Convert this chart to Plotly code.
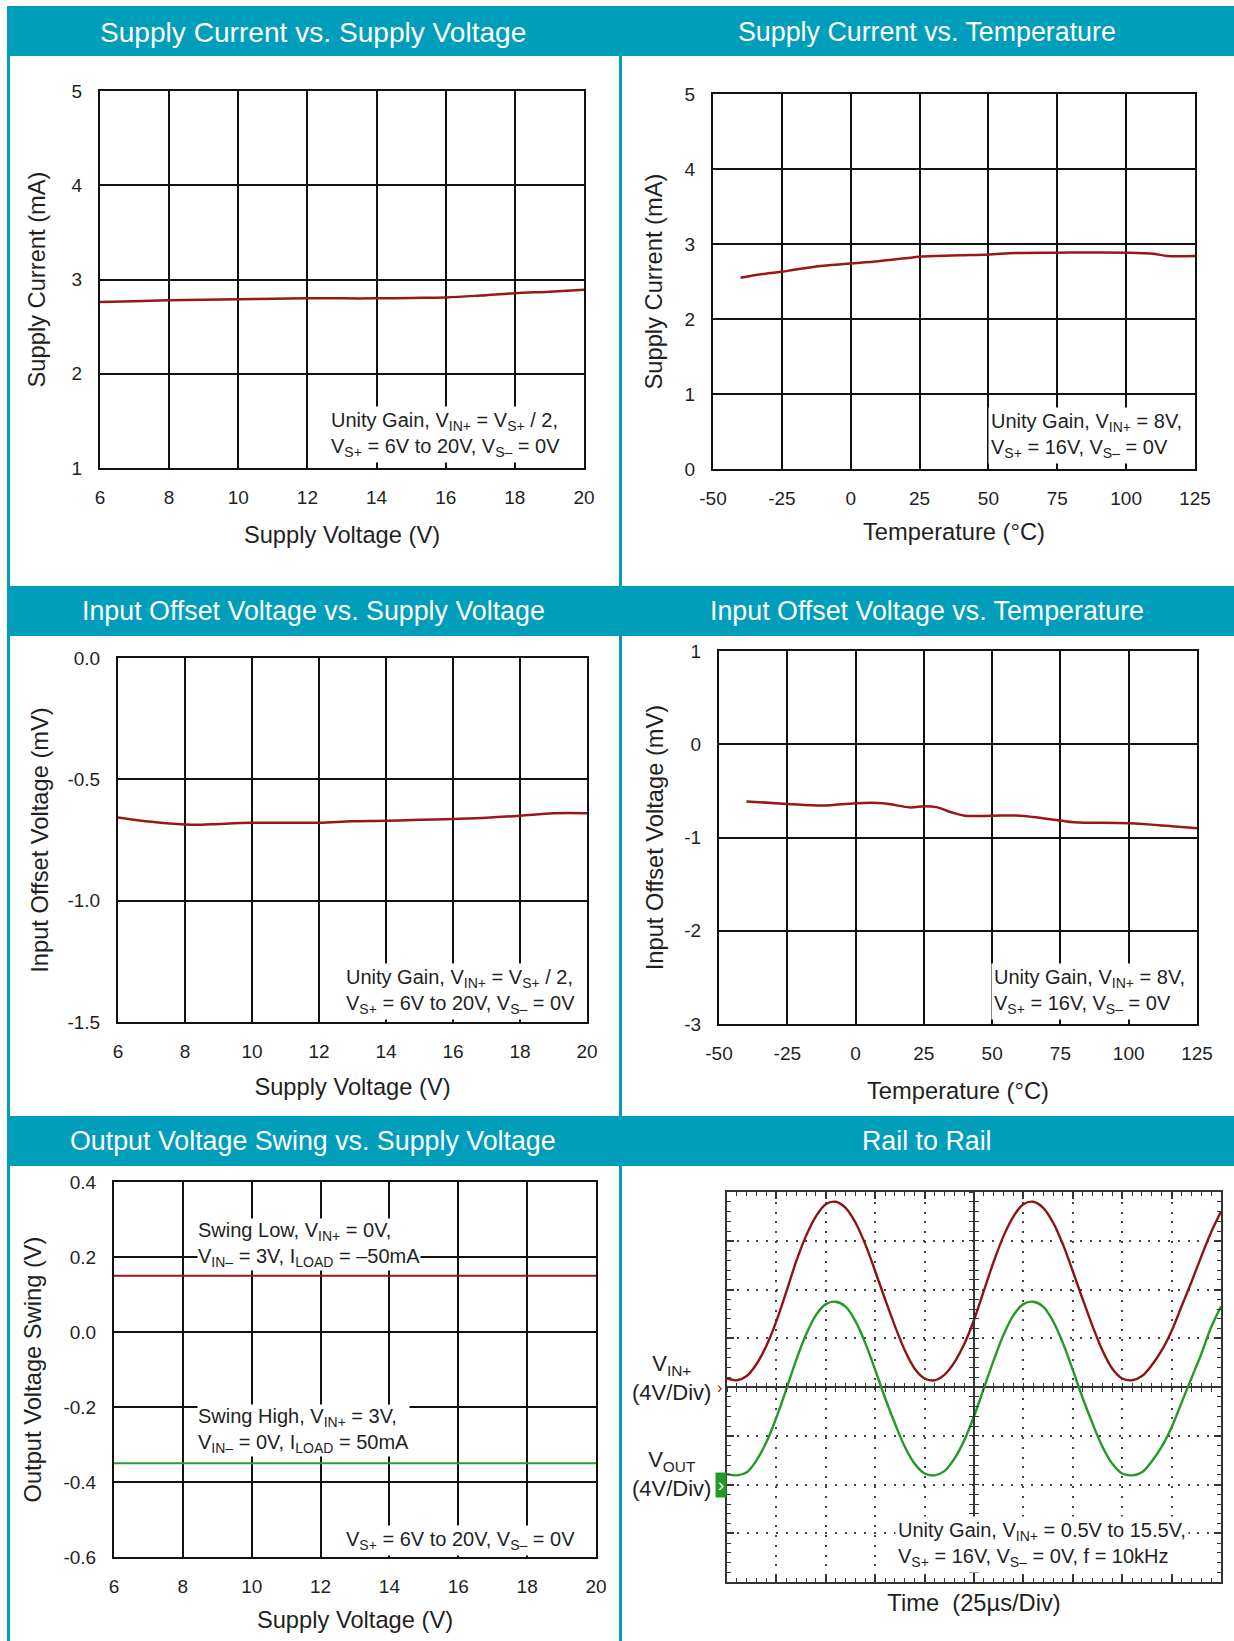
import plotly.graph_objects as go

W, H = 1234, 1641
FONT = "Liberation Sans, Arial, sans-serif"
TEAL = "#009EBA"
INK = "#1f1f1f"
RED = "#9A1717"
GREEN = "#2E9B2E"
SCOPE_RED = "#8E1414"
SCOPE_GREEN = "#239A23"

# ---------------- data ----------------
# Panel 1: Supply Current vs. Supply Voltage
p1_supply_v = [6, 7, 8, 9, 10, 11, 12, 13, 14, 15, 16, 17, 18, 19, 20]
p1_current_ma = [2.76, 2.77, 2.78, 2.785, 2.79, 2.795, 2.80, 2.80, 2.80, 2.805, 2.81, 2.83, 2.855, 2.87, 2.89]

# Panel 2: Supply Current vs. Temperature
p2_temp_c = [-40, -30, -25, -20, -10, 0, 10, 20, 25, 30, 40, 50, 60, 75, 100, 110, 115, 125]
p2_current_ma = [2.55, 2.61, 2.63, 2.66, 2.71, 2.74, 2.77, 2.81, 2.83, 2.84, 2.85, 2.86, 2.88, 2.885, 2.885, 2.87, 2.84, 2.84]

# Panel 3: Input Offset Voltage vs. Supply Voltage
p3_supply_v = [6, 7, 8, 8.5, 9, 10, 11, 12, 13, 14, 15, 16, 17, 18, 19, 20]
p3_offset_mv = [-0.657, -0.675, -0.686, -0.687, -0.684, -0.679, -0.679, -0.679, -0.673, -0.671, -0.667, -0.663, -0.658, -0.650, -0.640, -0.640]

# Panel 4: Input Offset Voltage vs. Temperature
p4_temp_c = [-40, -25, -12, 0, 10, 20, 25, 30, 35, 40, 50, 60, 65, 75, 80, 100, 115, 125]
p4_offset_mv = [-0.613, -0.64, -0.658, -0.632, -0.632, -0.677, -0.665, -0.677, -0.73, -0.766, -0.766, -0.766, -0.78, -0.818, -0.836, -0.848, -0.877, -0.90]

# Panel 5: Output Voltage Swing vs. Supply Voltage
p5_supply_v = [6, 8, 10, 12, 14, 16, 17, 17.5, 18, 19, 19.5, 20]
p5_swing_low_v = [0.15, 0.15, 0.15, 0.15, 0.15, 0.15, 0.15, 0.152, 0.152, 0.152, 0.15, 0.15]
p5_swing_high_v = [-0.35, -0.35, -0.35, -0.35, -0.35, -0.35, -0.35, -0.35, -0.35, -0.35, -0.35, -0.35]

# Panel 6: Rail to Rail scope capture (time in us, volts)
p6_time_us = [0, 5, 10, 15, 20, 25, 30, 35, 40, 45, 50, 55, 60, 65, 70, 75, 80, 85, 90, 95,
              100, 105, 110, 115, 120, 125, 130, 135, 140, 145, 150, 155, 160, 165, 170, 175, 180, 185, 190, 195,
              200, 205, 210, 215, 220, 225, 230, 235, 240, 245, 250]
p6_vin = [0.7, 0.55, 0.9, 1.9, 3.4, 5.4, 7.8, 10.3, 12.4, 14.0, 15.0, 15.2, 14.7, 13.5, 11.7, 9.5, 7.2, 5.0, 3.0, 1.5,
          0.7, 0.55, 1.0, 2.0, 3.5, 5.5, 7.9, 10.3, 12.4, 14.0, 15.0, 15.2, 14.7, 13.5, 11.7, 9.5, 7.2, 5.0, 3.0, 1.5,
          0.7, 0.55, 0.9, 1.8, 3.0, 4.6, 6.6, 8.6, 10.7, 12.7, 14.4]
p6_vout = [0.85, 0.75, 1.0, 2.0, 3.5, 5.5, 7.8, 10.2, 12.3, 13.9, 14.8, 15.0, 14.6, 13.4, 11.6, 9.4, 7.1, 5.0, 3.1, 1.7,
           0.9, 0.75, 1.1, 2.1, 3.6, 5.6, 7.9, 10.2, 12.3, 13.9, 14.8, 15.0, 14.6, 13.4, 11.6, 9.4, 7.1, 5.0, 3.1, 1.7,
           0.9, 0.75, 1.0, 1.9, 3.1, 4.7, 6.7, 8.7, 10.7, 12.9, 14.6]

# Tick labels
sv_ticks = [6, 8, 10, 12, 14, 16, 18, 20]
sv_ticktext = ["6", "8", "10", "12", "14", "16", "18", "20"]
temp_ticks = [-50, -25, 0, 25, 50, 75, 100, 125]
temp_ticktext = ["-50", "-25", "0", "25", "50", "75", "100", "125"]
p1_yticks = [1, 2, 3, 4, 5]
p1_ytext = ["1", "2", "3", "4", "5"]
p2_yticks = [0, 1, 2, 3, 4, 5]
p2_ytext = ["0", "1", "2", "3", "4", "5"]
p3_yticks = [-1.5, -1.0, -0.5, 0.0]
p3_ytext = ["-1.5", "-1.0", "-0.5", "0.0"]
p4_yticks = [-3, -2, -1, 0, 1]
p4_ytext = ["-3", "-2", "-1", "0", "1"]
p5_yticks = [-0.6, -0.4, -0.2, 0.0, 0.2, 0.4]
p5_ytext = ["-0.6", "-0.4", "-0.2", "0.0", "0.2", "0.4"]

# ---------------- layout helpers ----------------
def fx(px):
    return px / W


def fy(py):
    return 1 - py / H


# plot boxes in pixels: left, top, right, bottom
boxes = {
    1: (100, 91, 584, 468),
    2: (713, 94, 1195, 469),
    3: (118, 658, 587, 1022),
    4: (719, 651, 1197, 1024),
    5: (114, 1182, 596, 1557),
    6: (727, 1192, 1221, 1582),
}

TICKFONT = dict(family=FONT, size=19, color=INK)
TITLEFONT = dict(family=FONT, size=23.7, color=INK)


def xaxis(n, rng, tv, tt, title, standoff):
    l, t, r, b = boxes[n]
    return dict(domain=[fx(l), fx(r)], range=rng, anchor="y" if n == 1 else f"y{n}",
                tickvals=tv, ticktext=tt, showgrid=True, gridcolor="#111111", gridwidth=1.8,
                showline=True, mirror=True, linecolor="#111111", linewidth=2, zeroline=False,
                ticks="", tickfont=TICKFONT, ticklabelstandoff=11, automargin=False,
                title=dict(text=title, font=TITLEFONT, standoff=standoff))


def yaxis(n, rng, tv, tt, title, standoff):
    l, t, r, b = boxes[n]
    return dict(domain=[fy(b), fy(t)], range=rng, anchor="x" if n == 1 else f"x{n}",
                tickvals=tv, ticktext=tt, showgrid=True, gridcolor="#111111", gridwidth=1.8,
                showline=True, mirror=True, linecolor="#111111", linewidth=2, zeroline=False,
                ticks="", tickfont=TICKFONT, ticklabelstandoff=12, automargin=False,
                title=dict(text=title, font=TITLEFONT, standoff=standoff))


fig = go.Figure()

fig.add_trace(go.Scatter(x=p1_supply_v, y=p1_current_ma, xaxis="x", yaxis="y", mode="lines",
                         line=dict(color=RED, width=2.5, shape="spline")))
fig.add_trace(go.Scatter(x=p2_temp_c, y=p2_current_ma, xaxis="x2", yaxis="y2", mode="lines",
                         line=dict(color=RED, width=2.5, shape="spline")))
fig.add_trace(go.Scatter(x=p3_supply_v, y=p3_offset_mv, xaxis="x3", yaxis="y3", mode="lines",
                         line=dict(color=RED, width=2.5, shape="spline")))
fig.add_trace(go.Scatter(x=p4_temp_c, y=p4_offset_mv, xaxis="x4", yaxis="y4", mode="lines",
                         line=dict(color=RED, width=2.5, shape="spline")))
fig.add_trace(go.Scatter(x=p5_supply_v, y=p5_swing_low_v, xaxis="x5", yaxis="y5", mode="lines",
                         line=dict(color=RED, width=2.2)))
fig.add_trace(go.Scatter(x=p5_supply_v, y=p5_swing_high_v, xaxis="x5", yaxis="y5", mode="lines",
                         line=dict(color=GREEN, width=2.2)))
fig.add_trace(go.Scatter(x=p6_time_us, y=p6_vin, xaxis="x6", yaxis="y6", mode="lines",
                         line=dict(color=SCOPE_RED, width=2.4, shape="spline")))
fig.add_trace(go.Scatter(x=p6_time_us, y=p6_vout, xaxis="x6", yaxis="y7", mode="lines",
                         line=dict(color=SCOPE_GREEN, width=2.4, shape="spline")))

layout = dict(
    width=W, height=H, margin=dict(l=0, r=0, t=0, b=0, autoexpand=False),
    paper_bgcolor="white", plot_bgcolor="white", showlegend=False,
    font=dict(family=FONT, color=INK),
    xaxis=xaxis(1, [6, 20], sv_ticks, sv_ticktext, "Supply Voltage (V)", 20),
    yaxis=yaxis(1, [1, 5], p1_yticks, p1_ytext, "Supply Current (mA)", 19),
    xaxis2=xaxis(2, [-50, 125], temp_ticks, temp_ticktext, "Temperature (°C)", 16),
    yaxis2=yaxis(2, [0, 5], p2_yticks, p2_ytext, "Supply Current (mA)", 15),
    xaxis3=xaxis(3, [6, 20], sv_ticks, sv_ticktext, "Supply Voltage (V)", 18),
    yaxis3=yaxis(3, [-1.5, 0], p3_yticks, p3_ytext, "Input Offset Voltage (mV)", 12.5),
    xaxis4=xaxis(4, [-50, 125], temp_ticks, temp_ticktext, "Temperature (°C)", 20),
    yaxis4=yaxis(4, [-3, 1], p4_yticks, p4_ytext, "Input Offset Voltage (mV)", 14),
    xaxis5=xaxis(5, [6, 20], sv_ticks, sv_ticktext, "Supply Voltage (V)", 16),
    yaxis5=yaxis(5, [-0.6, 0.4], p5_yticks, p5_ytext, "Output Voltage Swing (V)", 15),
)

# Panel 6: oscilloscope-style axes (25us/div, 4V/div)
l6, t6, r6, b6 = boxes[6]
xdom6 = [fx(l6), fx(r6)]
ydom6 = [fy(b6), fy(t6)]
SC = "#333333"
DOT = "2px,7.8px"
layout["xaxis6"] = dict(domain=xdom6, range=[0, 250], anchor="y6", dtick=25, tick0=0, automargin=False,
                        showticklabels=False, showgrid=True, gridcolor="#444444", gridwidth=1.6, griddash=DOT,
                        showline=True, mirror="ticks", linecolor=SC, linewidth=1.5, zeroline=False,
                        ticks="inside", ticklen=7, tickwidth=1.6, tickcolor=SC,
                        minor=dict(ticks="inside", ticklen=4, dtick=5, tick0=0, tickcolor=SC, tickwidth=1, showgrid=False),
                        title=dict(text="Time\u00a0 (25µs/Div)", font=TITLEFONT, standoff=12))
layout["yaxis6"] = dict(domain=ydom6, range=[-16, 16], anchor="x6", dtick=4, tick0=0, automargin=False,
                        showticklabels=False, showgrid=True, gridcolor="#444444", gridwidth=1.6, griddash=DOT,
                        showline=True, mirror="ticks", linecolor=SC, linewidth=1.5,
                        zeroline=True, zerolinecolor=SC, zerolinewidth=1.6,
                        ticks="inside", ticklen=7, tickwidth=1.6, tickcolor=SC,
                        minor=dict(ticks="inside", ticklen=4, dtick=0.8, tick0=0, tickcolor=SC, tickwidth=1, showgrid=False))
# VOUT channel: ground two divisions below centre
layout["yaxis7"] = dict(overlaying="y6", range=[-8, 24], anchor="x6", visible=False, automargin=False)
# centre cross-hair ticks
xc = (xdom6[0] + xdom6[1]) / 2
yc = (ydom6[0] + ydom6[1]) / 2
for name, side in (("xaxis7", "outside"), ("xaxis8", "inside")):
    layout[name] = dict(overlaying="x6", anchor="free", position=yc, range=[0, 250], dtick=5, tick0=0,
                        ticks=side, ticklen=4, tickwidth=1, tickcolor=SC, showticklabels=False, automargin=False,
                        showgrid=False, showline=False, zeroline=False)
for name, side, line in (("yaxis8", "outside", True), ("yaxis9", "inside", False)):
    layout[name] = dict(overlaying="y6", anchor="free", position=xc, range=[-16, 16], dtick=0.8, tick0=0,
                        ticks=side, ticklen=4, tickwidth=1, tickcolor=SC, showticklabels=False, automargin=False,
                        showgrid=False, showline=line, linecolor=SC, linewidth=1.6, zeroline=False)

fig.update_layout(**layout)

# invisible anchors so the overlay axes get drawn
fig.add_trace(go.Scatter(x=[None], y=[None], xaxis="x7", yaxis="y8", hoverinfo="skip"))
fig.add_trace(go.Scatter(x=[None], y=[None], xaxis="x8", yaxis="y9", hoverinfo="skip"))

# ---------------- frame: headers and borders ----------------
shapes = []
for top, bot in ((6, 56), (586, 636), (1116, 1166)):
    shapes.append(dict(type="rect", xref="paper", yref="paper", x0=fx(7), x1=1.0, y0=fy(bot), y1=fy(top),
                       fillcolor=TEAL, line=dict(width=0), layer="below"))
shapes.append(dict(type="rect", xref="paper", yref="paper", x0=fx(7), x1=fx(10), y0=0, y1=fy(6),
                   fillcolor=TEAL, line=dict(width=0), layer="below"))
shapes.append(dict(type="rect", xref="paper", yref="paper", x0=fx(619), x1=fx(622), y0=0, y1=fy(56),
                   fillcolor=TEAL, line=dict(width=0), layer="below"))
fig.update_layout(shapes=shapes)

ann = []
headers = [
    ("Supply Current vs. Supply Voltage", 313, 32, 28.1),
    ("Supply Current vs. Temperature", 927, 32, 26.8),
    ("Input Offset Voltage vs. Supply Voltage", 313, 611, 26.8),
    ("Input Offset Voltage vs. Temperature", 927, 611, 26.8),
    ("Output Voltage Swing vs. Supply Voltage", 313, 1141, 26.8),
    ("Rail to Rail", 927, 1141, 26.8),
]
for txt, cx, cy, sz in headers:
    ann.append(dict(text=txt, x=fx(cx), y=fy(cy), xref="paper", yref="paper", showarrow=False,
                    xanchor="center", yanchor="middle", font=dict(family=FONT, size=sz, color="white")))

COND = dict(family=FONT, size=20, color=INK)
conditions = [
    ("Unity Gain, V<sub>IN+</sub> = V<sub>S+</sub> / 2,<br>V<sub>S+</sub> = 6V to 20V, V<sub>S–</sub> = 0V", 328, 406, 2),
    ("Unity Gain, V<sub>IN+</sub> = 8V,<br>V<sub>S+</sub> = 16V, V<sub>S–</sub> = 0V", 988, 407, 2),
    ("Unity Gain, V<sub>IN+</sub> = V<sub>S+</sub> / 2,<br>V<sub>S+</sub> = 6V to 20V, V<sub>S–</sub> = 0V", 343, 963, 2),
    ("Unity Gain, V<sub>IN+</sub> = 8V,<br>V<sub>S+</sub> = 16V, V<sub>S–</sub> = 0V", 991, 963, 2),
    ("Swing Low, V<sub>IN+</sub> = 0V,<br>V<sub>IN–</sub> = 3V, I<sub>LOAD</sub> = –50mA", 197, 1218, 0),
    ("Swing High, V<sub>IN+</sub> = 3V,<br>V<sub>IN–</sub> = 0V, I<sub>LOAD</sub> = 50mA", 197, 1404, 0),
    ("V<sub>S+</sub> = 6V to 20V, V<sub>S–</sub> = 0V", 343, 1525, 2),
    ("Unity Gain, V<sub>IN+</sub> = 0.5V to 15.5V,<br>V<sub>S+</sub> = 16V, V<sub>S–</sub> = 0V, f = 10kHz", 895, 1516, 2),
]
for txt, lx, ty, pad in conditions:
    ann.append(dict(text=txt, x=fx(lx), y=fy(ty), xref="paper", yref="paper", showarrow=False,
                    xanchor="left", yanchor="top", align="left", bgcolor="white", borderpad=pad, font=COND))

# scope channel labels
SCOPE_LBL = dict(family=FONT, size=22, color=INK)
ann.append(dict(text="V<sub>IN+</sub><br>(4V/Div)", x=fx(672), y=fy(1378), xref="paper", yref="paper",
                showarrow=False, xanchor="center", yanchor="middle", align="center", font=SCOPE_LBL))
ann.append(dict(text="V<sub>OUT</sub><br>(4V/Div)", x=fx(672), y=fy(1474), xref="paper", yref="paper",
                showarrow=False, xanchor="center", yanchor="middle", align="center", font=SCOPE_LBL))
ann.append(dict(text="›", x=fx(724), y=0, xref="paper", yref="y6", showarrow=False,
                xanchor="right", yanchor="middle", font=dict(family=FONT, size=16, color=SCOPE_RED)))
ann.append(dict(text="›", x=fx(727), y=0, xref="paper", yref="y7", showarrow=False,
                xanchor="right", yanchor="middle", bgcolor=SCOPE_GREEN, borderpad=2,
                font=dict(family=FONT, size=18, color="white")))
fig.update_layout(annotations=ann)

fig.write_html("out.html", config={"displayModeBar": False},
               post_script="document.body.style.margin='0px';")
